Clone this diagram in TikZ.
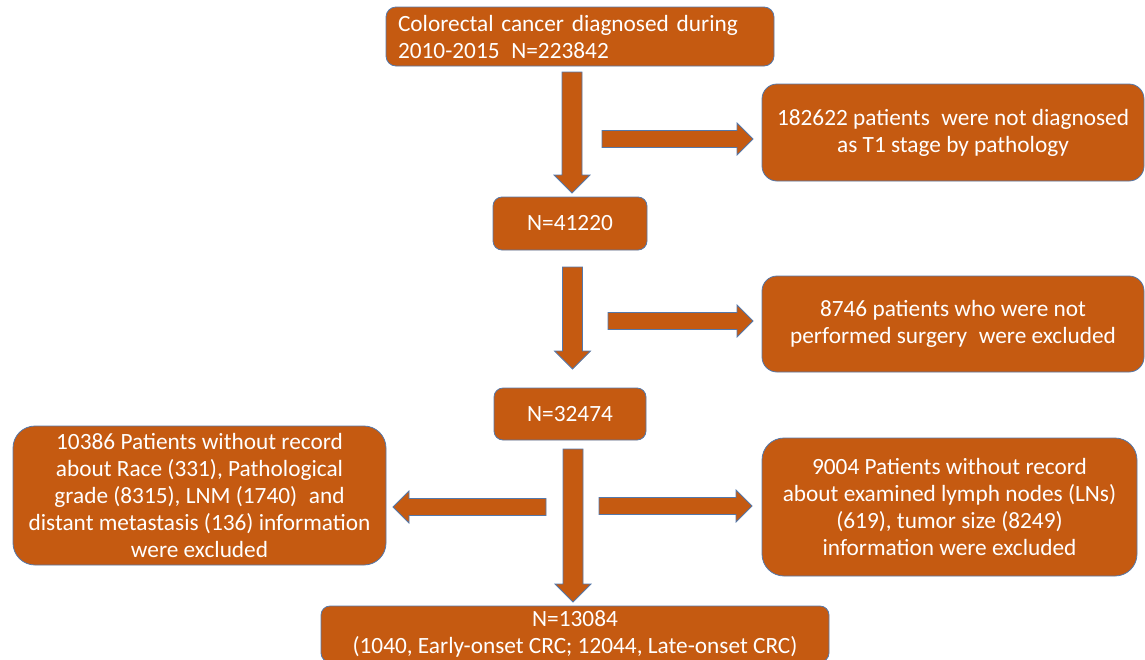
\documentclass[tikz,border=0pt]{standalone}
\usepackage{fontspec}
\setmainfont{Carlito}
\definecolor{boxfill}{RGB}{197,90,17}
\definecolor{boxline}{RGB}{84,120,170}
\tikzset{
  box/.style={draw=boxline, line width=0.8pt, fill=boxfill, text=white, inner sep=0pt,
    align=center, font=\fontsize{23.3}{27}\selectfont},
  arr/.style={draw=boxline, line width=0.8pt, fill=boxfill}
}
\newcommand{\downarr}[3]{% x, ytop, ytip
  \draw[arr] (#1-10,#2) -- (#1+10,#2) -- (#1+10,#3-18) -- (#1+18,#3-18) -- (#1,#3)
    -- (#1-18,#3-18) -- (#1-10,#3-18) -- cycle;}
\newcommand{\rightarr}[3]{% xstart, xtip, y
  \draw[arr] (#1,#3-8.5) -- (#2-16,#3-8.5) -- (#2-16,#3-16) -- (#2,#3) -- (#2-16,#3+16)
    -- (#2-16,#3+8.5) -- (#1,#3+8.5) -- cycle;}
\newcommand{\leftarr}[3]{% xstart, xtip, y
  \draw[arr] (#1,#3-8.5) -- (#2+16,#3-8.5) -- (#2+16,#3-16) -- (#2,#3) -- (#2+16,#3+16)
    -- (#2+16,#3+8.5) -- (#1,#3+8.5) -- cycle;}
\begin{document}
\begin{tikzpicture}[x=1pt,y=-1pt]
\useasboundingbox (0,0) rectangle (1145,659);
\node[box, rounded corners=10pt, minimum width=388pt, minimum height=59pt, text width=364pt, align=left]
  (top) at (580,36.5) {Colorectal cancer diagnosed during\\2010-2015\hspace{0.5em}N=223842};
\node[box, rounded corners=15pt, minimum width=382pt, minimum height=97pt]
  (r1) at (953,132.5) {182622 patients\hspace{0.5em}were not diagnosed\\as T1 stage by pathology};
\node[box, rounded corners=9pt, minimum width=154pt, minimum height=53pt]
  (n1) at (570,223.5) {N=41220};
\node[box, rounded corners=15pt, minimum width=382pt, minimum height=96pt]
  (r2) at (953,324) {8746 patients who were not\\performed surgery\hspace{0.5em}were excluded};
\node[box, rounded corners=9pt, minimum width=152pt, minimum height=52pt]
  (n2) at (570,414) {N=32474};
\node[box, rounded corners=22pt, minimum width=373pt, minimum height=139pt]
  (l3) at (199.5,495.5) {10386 Patients without record\\about Race (331), Pathological\\grade (8315), LNM (1740)\hspace{0.5em}and\\distant metastasis (136) information\\were excluded};
\node[box, rounded corners=22pt, minimum width=375pt, minimum height=138pt]
  (r3) at (949.5,507) {9004 Patients without record\\about examined lymph nodes (LNs)\\(619), tumor size (8249)\\information were excluded};
\node[box, rounded corners=9pt, minimum width=508pt, minimum height=56pt]
  (bot) at (575,634) {N=13084\\(1040, Early-onset CRC; 12044, Late-onset CRC)};
\downarr{572}{72}{193}
\rightarr{602}{753}{139}
\downarr{572.5}{267}{369}
\rightarr{608}{753}{321}
\downarr{573}{449}{602}
\leftarr{546}{393}{507}
\rightarr{599}{752}{506}
\end{tikzpicture}
\end{document}
